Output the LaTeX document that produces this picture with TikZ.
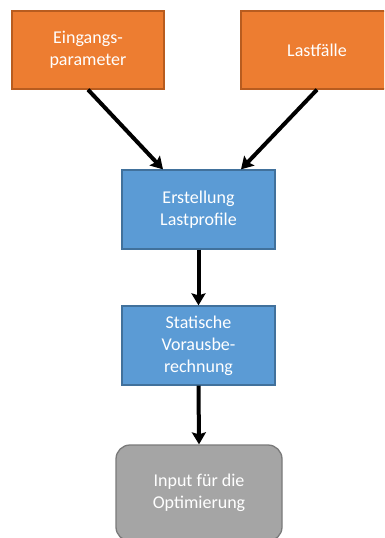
\documentclass[tikz,border=0pt]{standalone}
\usepackage{fontspec}
\setmainfont{Carlito}
\usetikzlibrary{arrows.meta,calc}

\definecolor{orfill}{HTML}{ED7D31}
\definecolor{ordraw}{HTML}{B85C1F}
\definecolor{blfill}{HTML}{5B9BD5}
\definecolor{bldraw}{HTML}{41719C}
\definecolor{gyfill}{HTML}{A5A5A5}
\definecolor{gydraw}{HTML}{7A7A7A}

\tikzset{
  box/.style={rectangle, line width=1.3pt, text=white, align=center,
    font=\fontsize{18}{22}\selectfont, inner sep=0pt,
    execute at begin node={\vspace*{5pt}}},
  inbox/.style={box, fill=orfill, draw=ordraw, minimum width=152pt, minimum height=78pt},
  procbox/.style={box, fill=blfill, draw=bldraw, minimum width=153pt, minimum height=79pt},
  outbox/.style={box, fill=gyfill, draw=gydraw, rounded corners=14pt,
    minimum width=166pt, minimum height=96pt},
  flow/.style={line width=4pt, -{Stealth[inset=2pt,width=14pt,length=12pt]}}
}

\begin{document}
\begin{tikzpicture}[x=1pt,y=-1pt]
  \useasboundingbox (0,0) rectangle (384,538);
  \clip (0,0) rectangle (384,538);

  % input boxes
  \node[inbox] (ein) at (88,50) {Eingangs-\\parameter};
  \node[inbox] (last) at (317,50) {Lastfälle};

  % processing steps
  \node[procbox] (erst) at (198.5,209.5) {Erstellung\\Lastprofile};
  \node[procbox] (stat) at (198.5,345.5) {Statische\\Vorausbe-\\rechnung};

  % result
  \node[outbox] (inp) at (199,493) {Input für die\\Optimierung};

  % connectors
  \draw[flow] (ein.south) -- ([xshift=-35.5pt]erst.north);
  \draw[flow] (last.south) -- ([xshift=42.5pt]erst.north);
  \draw[flow] (erst.south) -- (stat.north);
  \draw[flow] (stat.south) -- (inp.north);
\end{tikzpicture}
\end{document}
